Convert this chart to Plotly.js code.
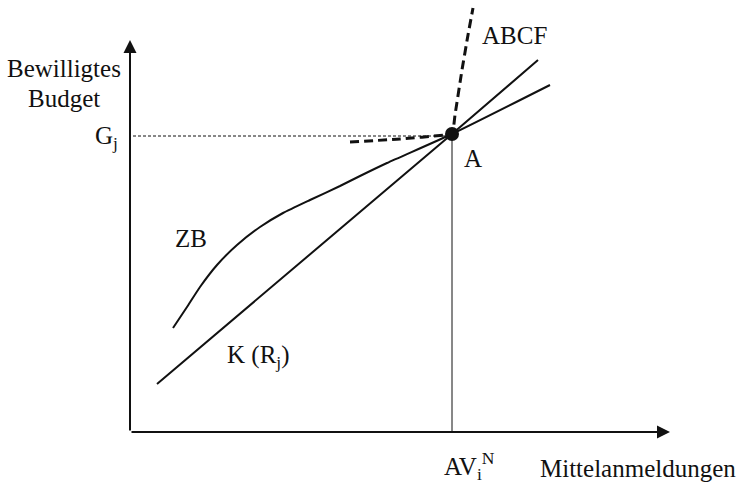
<!DOCTYPE html>
<html><head><meta charset="utf-8">
<script src="https://cdn.plot.ly/plotly-3.0.1.min.js"></script>
<style>html,body{margin:0;padding:0;background:#fff}</style>
</head><body>
<div id="chart" style="width:739px;height:483px"></div>
<script>
// Schematic coordinates: origin at axis corner, x to the right, y upward
const pointA = {x: 322, y: 298};
const budgetG = 296;
const axisEnd = {x: 540, y: 392};

const kX = [27, 322, 408];
const kY = [48, 298, 372];

const zbX = [43, 57, 70, 87, 107, 130, 153, 180, 210, 230, 257, 322, 420];
const zbY = [104, 125, 145, 167, 187, 205, 219, 232, 246, 256, 269, 298, 347];

const abcfX = [220, 270, 315, 322, 325, 332, 338, 343];
const abcfY = [290, 293, 297, 298, 317, 362, 397, 424];

const serif = "Liberation Serif, Times New Roman, serif";
const black = "#111";

const traces = [
  {x: [3, pointA.x], y: [budgetG, budgetG], mode: "lines", line: {color: black, width: 1, dash: "3px,2px"}},
  {x: [pointA.x, pointA.x], y: [0, pointA.y], mode: "lines", line: {color: black, width: 1}},
  {x: kX, y: kY, mode: "lines", line: {color: black, width: 2}},
  {x: zbX, y: zbY, mode: "lines", line: {color: black, width: 2, shape: "spline", smoothing: 0.5}},
  {x: abcfX, y: abcfY, mode: "lines", line: {color: black, width: 3, dash: "9px,5px", shape: "spline", smoothing: 0.5}},
  {x: [pointA.x], y: [pointA.y], mode: "markers", marker: {color: black, size: 14}}
];

const txt = (x, y, text, xanchor) => ({x, y, text, showarrow: false, xanchor: xanchor || "center", yanchor: "middle", font: {family: serif, size: 25, color: black}});

const annotations = [
  {x: 0, y: axisEnd.y, ax: 0, ay: 0, axref: "x", ayref: "y", xref: "x", yref: "y", text: "", showarrow: true, arrowhead: 2, arrowsize: 1.3, arrowwidth: 2, arrowcolor: black},
  {x: axisEnd.x, y: 0, ax: 0, ay: 0, axref: "x", ayref: "y", xref: "x", yref: "y", text: "", showarrow: true, arrowhead: 2, arrowsize: 1.3, arrowwidth: 2, arrowcolor: black},
  txt(-66, 364, "Bewilligtes"),
  txt(-66, 334, "Budget"),
  txt(-10, 295, "G<sub>j</sub>", "right"),
  txt(343, 274, "A"),
  txt(384, 397, "ABCF"),
  txt(61, 194, "ZB"),
  txt(128, 76, "K (R<sub>j</sub>)"),
  txt(339, -34, "AV<sub>i</sub><sup>N</sup>"),
  txt(508, -36, "Mittelanmeldungen")
];

const layout = {
  width: 739, height: 483,
  margin: {l: 0, r: 0, t: 0, b: 0},
  paper_bgcolor: "#fff", plot_bgcolor: "#fff",
  showlegend: false,
  xaxis: {range: [-130, 609], visible: false, fixedrange: true},
  yaxis: {range: [-51, 432], visible: false, fixedrange: true},
  annotations
};

Plotly.newPlot("chart", traces, layout, {displayModeBar: false, staticPlot: true});
</script>
</body></html>
